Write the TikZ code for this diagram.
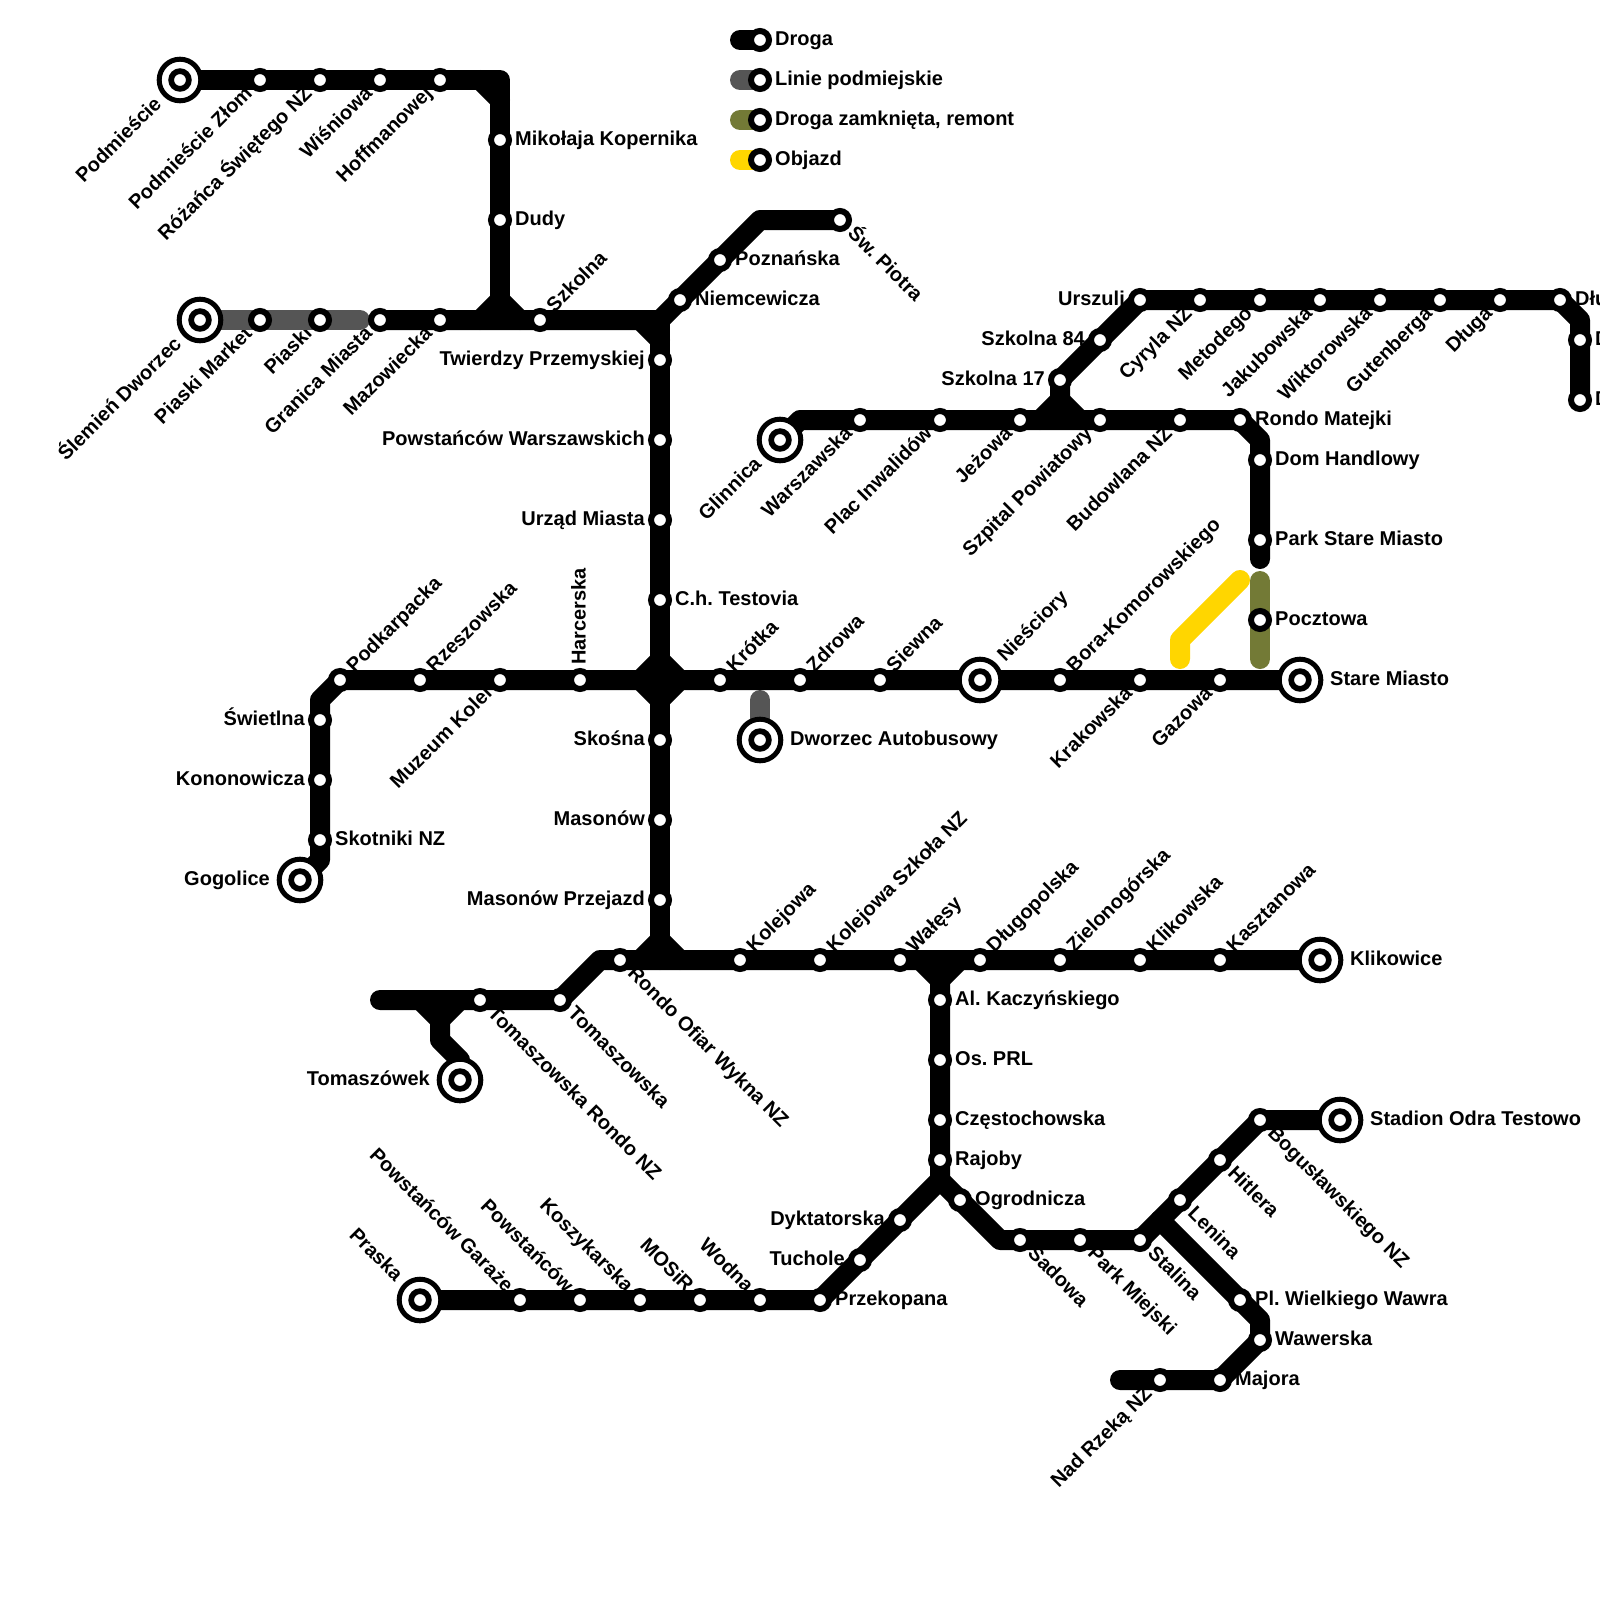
\documentclass[tikz,border=0pt]{standalone}
\usepackage{fontspec}
\setmainfont{Liberation Sans}
\usetikzlibrary{positioning}
\definecolor{podm}{RGB}{85,85,85}
\definecolor{remont}{RGB}{115,122,54}
\definecolor{objazd}{RGB}{255,214,0}
\pgfdeclarelayer{labs}
\pgfdeclarelayer{lines}
\pgfsetlayers{labs,lines,main}
\frenchspacing

\begin{document}
\begin{tikzpicture}[x=1pt,y=-1pt]
  \tikzset{
    road/.style={draw=black,line width=20pt,line cap=round,line join=round},
    stn/.style={circle,draw=black,fill=white,line width=6pt,minimum size=18pt,inner sep=0pt,outer sep=0pt},
    term/.style={circle,draw=black,fill=white,line width=5pt,minimum size=41.6pt,inner sep=0pt,outer sep=0pt,
                 path picture={\draw[line width=5.7pt] (path picture bounding box.center) circle (8.85pt);}},
    lab/.style={font=\fontsize{20}{24}\selectfont\bfseries,inner xsep=15pt,inner ysep=0pt,
                text height=15pt,text depth=4pt},
    labe/.style={lab,anchor=west},
    labw/.style={lab,anchor=east},
    labne/.style={lab,anchor=west,rotate=45},
    labsw/.style={lab,anchor=east,rotate=45},
    labse/.style={lab,anchor=west,rotate=-45},
    labnw/.style={lab,anchor=east,rotate=-45},
    labn/.style={lab,anchor=west,rotate=90},
    far/.style={inner xsep=30pt}
  }
  % legend
  \node[stn] (lega) at (760,40) {};
  \node[stn] (legb) at (760,80) {};
  \node[stn] (legc) at (760,120) {};
  \node[stn] (legd) at (760,160) {};
  \coordinate (lega0) at (740,40);
  \coordinate (legb0) at (740,80);
  \coordinate (legc0) at (740,120);
  \coordinate (legd0) at (740,160);

  % top left line
  \node[term] (podmiescie) at (180,80) {};
  \node[stn] (zlom) at (260,80) {};
  \node[stn] (rozanca) at (320,80) {};
  \node[stn] (wisniowa) at (380,80) {};
  \node[stn] (hoffman) at (440,80) {};
  \node[stn] (kopernik) at (500,140) {};
  \node[stn] (dudy) at (500,220) {};
  \coordinate (c1) at (500,80);
  \coordinate (c1a) at (480,80);
  \coordinate (c1b) at (500,100);
  \coordinate (c2) at (500,300);
  \coordinate (c2a) at (480,320);
  \coordinate (c2b) at (520,320);

  % second line
  \node[term] (slemien) at (200,320) {};
  \node[stn] (market) at (260,320) {};
  \node[stn] (piaski) at (320,320) {};
  \coordinate (piaskiend) at (360,320);
  \node[stn] (granica) at (380,320) {};
  \node[stn] (mazow) at (440,320) {};
  \node[stn] (szkolna) at (540,320) {};
  \coordinate (c3) at (660,320);
  \coordinate (c3a) at (640,320);
  \coordinate (c3b) at (660,340);
  \node[stn] (niemce) at (680,300) {};
  \node[stn] (poznan) at (720,260) {};
  \coordinate (c4) at (760,220);
  \node[stn] (piotra) at (840,220) {};

  % long vertical
  \node[stn] (twierdzy) at (660,360) {};
  \node[stn] (powwar) at (660,440) {};
  \node[stn] (urzad) at (660,520) {};
  \node[stn] (testovia) at (660,600) {};
  \node[stn] (skosna) at (660,740) {};
  \node[stn] (mason) at (660,820) {};
  \node[stn] (przejazd) at (660,900) {};
  \coordinate (c5n) at (660,660);
  \coordinate (c5s) at (660,700);
  \coordinate (c5w) at (640,680);
  \coordinate (c5e) at (680,680);
  \coordinate (c6) at (660,940);
  \coordinate (c6a) at (640,960);
  \coordinate (c6b) at (680,960);
  \coordinate (c6c) at (660,960);

  % y=680
  \node[term] (gogolice) at (300,880) {};
  \coordinate (c7) at (320,860);
  \node[stn] (skotniki) at (320,840) {};
  \node[stn] (konon) at (320,780) {};
  \node[stn] (swietlna) at (320,720) {};
  \coordinate (c8) at (320,700);
  \node[stn] (podkarp) at (340,680) {};
  \node[stn] (rzeszow) at (420,680) {};
  \node[stn] (muzeum) at (500,680) {};
  \node[stn] (harcer) at (580,680) {};
  \node[stn] (krotka) at (720,680) {};
  \node[stn] (zdrowa) at (800,680) {};
  \node[stn] (siewna) at (880,680) {};
  \node[term] (niesciory) at (980,680) {};
  \node[stn] (bora) at (1060,680) {};
  \node[stn] (krakow) at (1140,680) {};
  \node[stn] (gazowa) at (1220,680) {};
  \node[term] (stare) at (1300,680) {};
  \node[term] (dworzec) at (760,740) {};
  \coordinate (dworzec0) at (760,700);

  % glinnica
  \node[term] (glinnica) at (780,440) {};
  \coordinate (c9) at (800,420);
  \node[stn] (warszaw) at (860,420) {};
  \node[stn] (plac) at (940,420) {};
  \node[stn] (jezowa) at (1020,420) {};
  \node[stn] (szpital) at (1100,420) {};
  \node[stn] (budowl) at (1180,420) {};
  \node[stn] (matejki) at (1240,420) {};
  \coordinate (c10) at (1260,440);
  \node[stn] (handlowy) at (1260,460) {};
  \node[stn] (park) at (1260,540) {};
  \coordinate (parkend) at (1260,559);
  \coordinate (remonta) at (1260,581);
  \coordinate (remontb) at (1260,659);
  \node[stn] (pocztowa) at (1260,620) {};
  \coordinate (obja) at (1180,659);
  \coordinate (objb) at (1180,640);
  \coordinate (objc) at (1240,580);

  % top right
  \coordinate (c11) at (1060,400);
  \coordinate (c11a) at (1040,420);
  \coordinate (c11b) at (1080,420);
  \node[stn] (szk17) at (1060,380) {};
  \node[stn] (szk84) at (1100,340) {};
  \node[stn] (urszuli) at (1140,300) {};
  \node[stn] (cyryla) at (1200,300) {};
  \node[stn] (metod) at (1260,300) {};
  \node[stn] (jakub) at (1320,300) {};
  \node[stn] (wiktor) at (1380,300) {};
  \node[stn] (guten) at (1440,300) {};
  \node[stn] (dluga) at (1500,300) {};
  \node[stn] (dlua) at (1560,300) {};
  \coordinate (c12) at (1580,320);
  \node[stn] (dlub) at (1580,340) {};
  \node[stn] (dluc) at (1580,400) {};

  % y=960
  \coordinate (tomend) at (380,1000);
  \coordinate (c13) at (440,1020);
  \coordinate (c13a) at (420,1000);
  \coordinate (c13b) at (460,1000);
  \coordinate (c13c) at (440,1040);
  \coordinate (c13d) at (460,1060);
  \node[term] (tomasz) at (460,1080) {};
  \node[stn] (tomrondo) at (480,1000) {};
  \node[stn] (tomaszow) at (560,1000) {};
  \coordinate (c14) at (600,960);
  \node[stn] (ofiar) at (620,960) {};
  \node[stn] (kolej) at (740,960) {};
  \node[stn] (kolszk) at (820,960) {};
  \node[stn] (walesy) at (900,960) {};
  \coordinate (c15) at (940,980);
  \coordinate (c15a) at (920,960);
  \coordinate (c15b) at (960,960);
  \node[stn] (dlugop) at (980,960) {};
  \node[stn] (zielona) at (1060,960) {};
  \node[stn] (klikow) at (1140,960) {};
  \node[stn] (kasztan) at (1220,960) {};
  \node[term] (klikowice) at (1320,960) {};

  % x=940 and below
  \node[stn] (kaczyn) at (940,1000) {};
  \node[stn] (prl) at (940,1060) {};
  \node[stn] (czesto) at (940,1120) {};
  \node[stn] (rajoby) at (940,1160) {};
  \coordinate (c16) at (940,1180);
  \node[stn] (dyktat) at (900,1220) {};
  \node[stn] (tuchole) at (860,1260) {};
  \node[stn] (przekop) at (820,1300) {};
  \node[stn] (wodna) at (760,1300) {};
  \node[stn] (mosir) at (700,1300) {};
  \node[stn] (koszyk) at (640,1300) {};
  \node[stn] (powst) at (580,1300) {};
  \node[stn] (garaze) at (520,1300) {};
  \node[term] (praska) at (420,1300) {};
  \node[stn] (ogrod) at (960,1200) {};
  \coordinate (c17) at (1000,1240);
  \node[stn] (sadowa) at (1020,1240) {};
  \node[stn] (miejski) at (1080,1240) {};
  \node[stn] (stalina) at (1140,1240) {};
  \coordinate (c18) at (1160,1220);
  \node[stn] (lenina) at (1180,1200) {};
  \node[stn] (hitlera) at (1220,1160) {};
  \node[stn] (boguslaw) at (1260,1120) {};
  \node[term] (stadion) at (1340,1120) {};
  \node[stn] (wawra) at (1240,1300) {};
  \coordinate (c19) at (1260,1320);
  \node[stn] (wawer) at (1260,1340) {};
  \node[stn] (majora) at (1220,1380) {};
  \node[stn] (rzeka) at (1160,1380) {};
  \coordinate (rzekaend) at (1120,1380);

  \begin{pgfonlayer}{lines}
    \draw[road] (lega0) -- (lega.center);
    \draw[road,draw=podm] (legb0) -- (legb.center);
    \draw[road,draw=remont] (legc0) -- (legc.center);
    \draw[road,draw=objazd] (legd0) -- (legd.center);
    \draw[road,draw=podm] (slemien.center) -- (piaskiend);
    \draw[road,draw=podm] (dworzec0) -- (dworzec.center);
    \draw[road,draw=remont] (remonta) -- (remontb);
    \draw[road,draw=objazd] (obja) -- (objb) -- (objc);
    \draw[road] (podmiescie.center) -- (c1) -- (c2);
    \draw[road] (c1a) -- (c1b);
    \draw[road] (c2a) -- (c2) -- (c2b);
    \draw[road] (granica.center) -- (c3) -- (niemce.center) -- (c4) -- (piotra.center);
    \draw[road] (c3a) -- (c3b);
    \draw[road] (c3) -- (c6c);
    \draw[road] (c5n) -- (c5e) -- (c5s) -- (c5w) -- cycle;
    \draw[road] (c6a) -- (c6) -- (c6b);
    \draw[road] (gogolice.center) -- (c7) -- (c8) -- (podkarp.center) -- (stare.center);
    \draw[road] (glinnica.center) -- (c9) -- (matejki.center) -- (c10) -- (parkend);
    \draw[road] (c11a) -- (c11) -- (c11b);
    \draw[road] (c11) -- (szk17.center) -- (urszuli.center) -- (dlua.center) -- (c12) -- (dluc.center);
    \draw[road] (tomend) -- (tomaszow.center) -- (c14) -- (klikowice.center);
    \draw[road] (c13a) -- (c13) -- (c13b);
    \draw[road] (c13) -- (c13c) -- (c13d) -- (tomasz.center);
    \draw[road] (c15a) -- (c15) -- (c15b);
    \draw[road] (c15) -- (c16) -- (przekop.center) -- (praska.center);
    \draw[road] (c16) -- (c17) -- (stalina.center) -- (boguslaw.center) -- (stadion.center);
    \draw[road] (c18) -- (wawra.center) -- (c19) -- (wawer.center) -- (majora.center) -- (rzekaend);
  \end{pgfonlayer}

  \begin{pgfonlayer}{labs}
    \path[use as bounding box,fill=white] (0,0) rectangle (1600,1600);
    \node[labe] (legat) at (lega) {Droga};
    \node[labe] (legbt) at (legb) {Linie podmiejskie};
    \node[labe] (legct) at (legc) {Droga zamknięta, remont};
    \node[labe] (legdt) at (legd) {Objazd};

    \node[labsw,far] (podmiesciet) at (podmiescie) {Podmieście};
    \node[labsw] (zlomt) at (zlom) {Podmieście Złom};
    \node[labsw] (rozancat) at (rozanca) {Różańca Świętego NZ};
    \node[labsw] (wisniowat) at (wisniowa) {Wiśniowa};
    \node[labsw] (hoffmant) at (hoffman) {Hoffmanowej};
    \node[labe] (kopernikt) at (kopernik) {Mikołaja Kopernika};
    \node[labe] (dudyt) at (dudy) {Dudy};
    \node[labne] (szkolnat) at (szkolna) {Szkolna};

    \node[labsw,far] (slemient) at (slemien) {Ślemień Dworzec};
    \node[labsw] (markett) at (market) {Piaski Market};
    \node[labsw] (piaskit) at (piaski) {Piaski};
    \node[labsw] (granicat) at (granica) {Granica Miasta};
    \node[labsw] (mazowt) at (mazow) {Mazowiecka};
    \node[labe] (niemcet) at (niemce) {Niemcewicza};
    \node[labe] (poznant) at (poznan) {Poznańska};
    \node[labse] (piotrat) at (piotra) {Św. Piotra};

    \node[labw] (twierdzyt) at (twierdzy) {Twierdzy Przemyskiej};
    \node[labw] (powwart) at (powwar) {Powstańców Warszawskich};
    \node[labw] (urzadt) at (urzad) {Urząd Miasta};
    \node[labe] (testoviat) at (testovia) {C.h. Testovia};
    \node[labw] (skosnat) at (skosna) {Skośna};
    \node[labw] (masont) at (mason) {Masonów};
    \node[labw] (przejazdt) at (przejazd) {Masonów Przejazd};

    \node[labw,far] (gogolicet) at (gogolice) {Gogolice};
    \node[labe] (skotnikit) at (skotniki) {Skotniki NZ};
    \node[labw] (konont) at (konon) {Kononowicza};
    \node[labw] (swietlnat) at (swietlna) {Świetlna};
    \node[labne] (podkarpt) at (podkarp) {Podkarpacka};
    \node[labne] (rzeszowt) at (rzeszow) {Rzeszowska};
    \node[labsw] (muzeumt) at (muzeum) {Muzeum Kolei};
    \node[labn] (harcert) at (harcer) {Harcerska};
    \node[labne] (krotkat) at (krotka) {Krótka};
    \node[labne] (zdrowat) at (zdrowa) {Zdrowa};
    \node[labne] (siewnat) at (siewna) {Siewna};
    \node[labne,far] (niesciroyt) at (niesciory) {Nieściory};
    \node[labne] (borat) at (bora) {Bora-Komorowskiego};
    \node[labsw] (krakowt) at (krakow) {Krakowska};
    \node[labsw] (gazowat) at (gazowa) {Gazowa};
    \node[labe,far] (staret) at (stare) {Stare Miasto};
    \node[labe,far] (dworzect) at (dworzec) {Dworzec Autobusowy};

    \node[labsw,far] (glinnicat) at (glinnica) {Glinnica};
    \node[labsw] (warszawt) at (warszaw) {Warszawska};
    \node[labsw] (plact) at (plac) {Plac Inwalidów};
    \node[labsw] (jezowat) at (jezowa) {Jeżowa};
    \node[labsw] (szpitalt) at (szpital) {Szpital Powiatowy};
    \node[labsw] (budowlt) at (budowl) {Budowlana NZ};
    \node[labe] (matejkit) at (matejki) {Rondo Matejki};
    \node[labe] (handlowyt) at (handlowy) {Dom Handlowy};
    \node[labe] (parkt) at (park) {Park Stare Miasto};
    \node[labe] (pocztowat) at (pocztowa) {Pocztowa};

    \node[labw] (szk17t) at (szk17) {Szkolna 17};
    \node[labw] (szk84t) at (szk84) {Szkolna 84};
    \node[labw] (urszulit) at (urszuli) {Urszuli};
    \node[labsw] (cyrylat) at (cyryla) {Cyryla NZ};
    \node[labsw] (metodt) at (metod) {Metodego};
    \node[labsw] (jakubt) at (jakub) {Jakubowska};
    \node[labsw] (wiktort) at (wiktor) {Wiktorowska};
    \node[labsw] (gutent) at (guten) {Gutenberga};
    \node[labsw] (dlugat) at (dluga) {Długa};
    \node[labe] (dluat) at (dlua) {Dłu};
    \node[labe] (dlubt) at (dlub) {D};
    \node[labe] (dluct) at (dluc) {D};

    \node[labw,far] (tomaszt) at (tomasz) {Tomaszówek};
    \node[labse] (tomrondot) at (tomrondo) {Tomaszowska Rondo NZ};
    \node[labse] (tomaszowt) at (tomaszow) {Tomaszowska};
    \node[labse] (ofiart) at (ofiar) {Rondo Ofiar Wykna NZ};
    \node[labne] (kolejt) at (kolej) {Kolejowa};
    \node[labne] (kolszkt) at (kolszk) {Kolejowa Szkoła NZ};
    \node[labne] (walesyt) at (walesy) {Wałęsy};
    \node[labne] (dlugopt) at (dlugop) {Długopolska};
    \node[labne] (zielonat) at (zielona) {Zielonogórska};
    \node[labne] (klikowt) at (klikow) {Klikowska};
    \node[labne] (kasztant) at (kasztan) {Kasztanowa};
    \node[labe,far] (klikowicet) at (klikowice) {Klikowice};

    \node[labe] (kaczynt) at (kaczyn) {Al. Kaczyńskiego};
    \node[labe] (prlt) at (prl) {Os. PRL};
    \node[labe] (czestot) at (czesto) {Częstochowska};
    \node[labe] (rajobyt) at (rajoby) {Rajoby};
    \node[labw] (dyktatt) at (dyktat) {Dyktatorska};
    \node[labw] (tucholet) at (tuchole) {Tuchole};
    \node[labe] (przekopt) at (przekop) {Przekopana};
    \node[labnw] (wodnat) at (wodna) {Wodna};
    \node[labnw] (mosirt) at (mosir) {MOSiR};
    \node[labnw] (koszykt) at (koszyk) {Koszykarska};
    \node[labnw] (powstt) at (powst) {Powstańców};
    \node[labnw] (garazet) at (garaze) {Powstańców Garaże};
    \node[labnw,far] (praskat) at (praska) {Praska};
    \node[labe] (ogrodt) at (ogrod) {Ogrodnicza};
    \node[labse] (sadowat) at (sadowa) {Sadowa};
    \node[labse] (miejskit) at (miejski) {Park Miejski};
    \node[labse] (stalinat) at (stalina) {Stalina};
    \node[labse] (leninat) at (lenina) {Lenina};
    \node[labse] (hitlerat) at (hitlera) {Hitlera};
    \node[labse] (boguslawt) at (boguslaw) {Bogusławskiego NZ};
    \node[labe,far] (stadiont) at (stadion) {Stadion Odra Testowo};
    \node[labe] (wawrat) at (wawra) {Pl. Wielkiego Wawra};
    \node[labe] (wawert) at (wawer) {Wawerska};
    \node[labe] (majorat) at (majora) {Majora};
    \node[labsw] (rzekat) at (rzeka) {Nad Rzeką NZ};
  \end{pgfonlayer}
\end{tikzpicture}
\end{document}
